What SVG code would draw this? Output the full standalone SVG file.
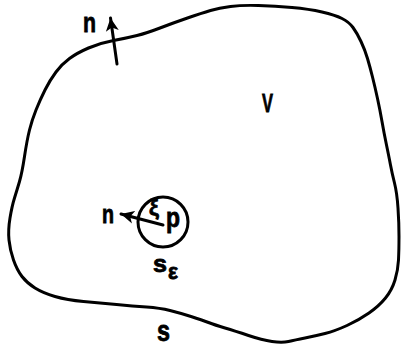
<svg xmlns="http://www.w3.org/2000/svg" width="404" height="346" viewBox="0 0 404 346">
<defs>
<marker id="ah" markerUnits="userSpaceOnUse" markerWidth="16" markerHeight="14" refX="13" refY="7" orient="auto">
<path d="M0,0.5 L13,7 L0,13.5 L3.5,7 Z" fill="#000"/>
</marker>
<style>
.ln{fill:none;stroke:#000;stroke-width:3;stroke-linecap:round;stroke-linejoin:round}
.t{font-family:"Liberation Sans",Arial,sans-serif;font-weight:bold;fill:#000;stroke:#000;stroke-width:0.8}
</style>
</defs>
<rect width="404" height="346" fill="#fff"/>
<g id="boundary-S">
<path class="ln" d="M 24.5,156.5 Q 27,140 29.5,130 Q 32,120 36,110 Q 40,100 45,90 Q 50,80 56,72 Q 62,64 69.5,58.5 Q 77,53 88.5,48 Q 100,43 113.5,40.5 Q 127,38 137,35.5 Q 147,33 160,28 Q 173,23 187.5,18 Q 202,13 210.5,10.5 Q 219,8 230.5,6.5 Q 242,5 258.5,5.5 Q 275,6 292,7.5 Q 309,9 322,12 Q 335,15 342,18.5 Q 349,22 353,27.5 Q 357,33 361,41.5 Q 365,50 367.5,58.5 Q 370,67 372.5,77 Q 375,87 377.5,98.5 Q 380,110 382,121.5 Q 384,133 386.5,145 Q 389,157 390.5,165 Q 392,173 394.5,183 Q 397,193 398,208 Q 399,223 399,236.5 Q 399,250 398.5,260 Q 398,270 395,280 Q 392,290 385.5,298 Q 379,306 369,313 Q 359,320 347,325.5 Q 335,331 325,333.5 Q 315,336 305,338 Q 295,340 288.5,341.5 Q 282,343 272,341.5 Q 262,340 248.5,335.5 Q 235,331 225,328 Q 215,325 208.5,322.5 Q 202,320 191,316.5 Q 180,313 170,310.5 Q 160,308 146.5,307 Q 133,306 116.5,304.5 Q 100,303 83.5,301.5 Q 67,300 55,296.5 Q 43,293 35,288 Q 27,283 22,276.5 Q 17,270 13.5,260 Q 10,250 9,240 Q 8,230 10,218 Q 12,206 14.5,198 Q 17,190 19.5,181.5 Q 22,173 24.5,156.5 Z"/>
<text class="t" x="157" y="341" font-size="30" textLength="13" lengthAdjust="spacingAndGlyphs">s</text>
</g>
<g id="volume-V">
<text class="t" x="262" y="112" font-size="25" textLength="11" lengthAdjust="spacingAndGlyphs">V</text>
</g>
<g id="small-sphere">
<circle class="ln" cx="163" cy="222" r="25"/>
<text class="t" x="149" y="215" font-size="22" font-weight="normal">ξ</text>
<text class="t" x="166" y="227" font-size="27" textLength="14" lengthAdjust="spacingAndGlyphs">p</text>
<text class="t" x="153" y="272" font-size="24" textLength="14" lengthAdjust="spacingAndGlyphs">s</text>
<text class="t" x="168" y="279" font-size="22" font-weight="normal" textLength="10" lengthAdjust="spacingAndGlyphs">ε</text>
</g>
<g id="normal-top">
<text class="t" x="83" y="32" font-size="27" textLength="13" lengthAdjust="spacingAndGlyphs">n</text>
</g>
<g id="normal-inner">
<text class="t" x="102" y="223" font-size="25" textLength="12" lengthAdjust="spacingAndGlyphs">n</text>
</g>
<g id="connectors">
<line class="ln" x1="117" y1="64" x2="110.5" y2="18" marker-end="url(#ah)"/>
<line class="ln" x1="163" y1="225" x2="121" y2="214" marker-end="url(#ah)"/>
</g>
</svg>
